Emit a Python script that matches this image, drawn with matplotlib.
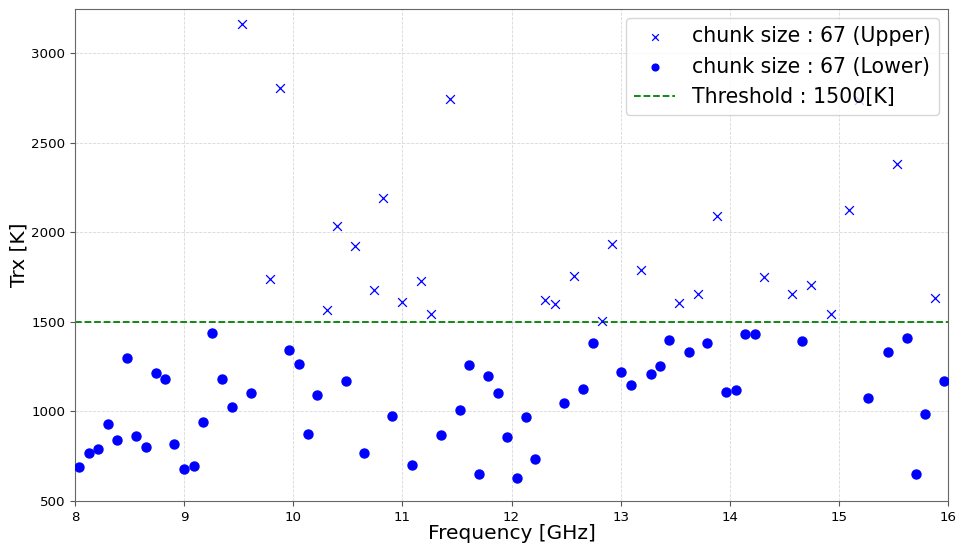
import matplotlib
matplotlib.use("Agg")
import matplotlib.pyplot as plt

# Upper sideband chunks (x markers)
upper_freq = [9.526, 9.786, 9.875, 10.309, 10.401, 10.568, 10.737, 10.826,
              11.000, 11.174, 11.260, 11.437, 12.310, 12.395, 12.573, 12.829,
              12.920, 13.185, 13.535, 13.708, 13.880, 14.316, 14.574, 14.748,
              14.924, 15.090, 15.184, 15.530, 15.878]
upper_trx = [3160, 1740, 2807, 1564, 2033, 1924, 1677, 2188,
             1608, 1730, 1545, 2744, 1620, 1597, 1758, 1504,
             1933, 1791, 1605, 1655, 2088, 1750, 1653, 1707,
             1545, 2122, 2740, 2381, 1633]

# Lower sideband chunks (dots)
lower_freq = [8.037, 8.128, 8.214, 8.300, 8.385, 8.477, 8.563, 8.648,
              8.740, 8.826, 8.911, 8.997, 9.089, 9.174, 9.260, 9.346,
              9.437, 9.609, 9.957, 10.049, 10.135, 10.220, 10.480, 10.652,
              10.908, 11.085, 11.351, 11.525, 11.614, 11.699, 11.785, 11.873,
              11.962, 12.047, 12.133, 12.218, 12.481, 12.658, 12.743, 13.006,
              13.096, 13.277, 13.362, 13.447, 13.623, 13.796, 13.970, 14.055,
              14.143, 14.231, 14.663, 15.271, 15.447, 15.620, 15.705, 15.793,
              15.964]
lower_trx = [692, 770, 789, 931, 839, 1297, 864, 801,
             1214, 1180, 818, 677, 695, 939, 1435, 1181,
             1026, 1102, 1345, 1262, 875, 1093, 1169, 769,
             974, 701, 867, 1008, 1261, 651, 1197, 1102,
             858, 628, 969, 734, 1049, 1127, 1384, 1222,
             1149, 1210, 1255, 1401, 1334, 1384, 1110, 1120,
             1429, 1433, 1394, 1076, 1334, 1410, 651, 986,
             1168]

threshold = 1500
x_range = [8, 16]
y_range = [500, 3245]

fig = plt.figure(figsize=(9.58, 5.46), dpi=100)
ax = fig.add_axes([75/958, 1-501/546, (948-75)/958, (501-9)/546])

ax.scatter(upper_freq, upper_trx, marker='x', color='blue', s=40,
           linewidths=0.9, label='chunk size : 67 (Upper)', zorder=3)
ax.scatter(lower_freq, lower_trx, marker='o', color='blue', s=42,
           label='chunk size : 67 (Lower)', zorder=3)
ax.plot(x_range, [threshold, threshold], color='green', linestyle='--',
        linewidth=1.3, label='Threshold : 1500[K]', zorder=2)

ax.set_xlim(x_range)
ax.set_ylim(y_range)
ax.grid(True, linestyle='--', color='#d8d8d8', linewidth=0.6)
ax.set_axisbelow(True)
ax.tick_params(labelsize=9.6, color='#555555')
for sp in ax.spines.values():
    sp.set_color('#666666')

ax.set_xlabel('Frequency [GHz]', fontsize=14.5, labelpad=0)
ax.set_ylabel('Trx [K]', fontsize=14.5, labelpad=2)

ax.legend(loc='upper right', fontsize=14.8, markerscale=0.75,
          borderaxespad=0.45)

fig.savefig('out.png', dpi=100)
